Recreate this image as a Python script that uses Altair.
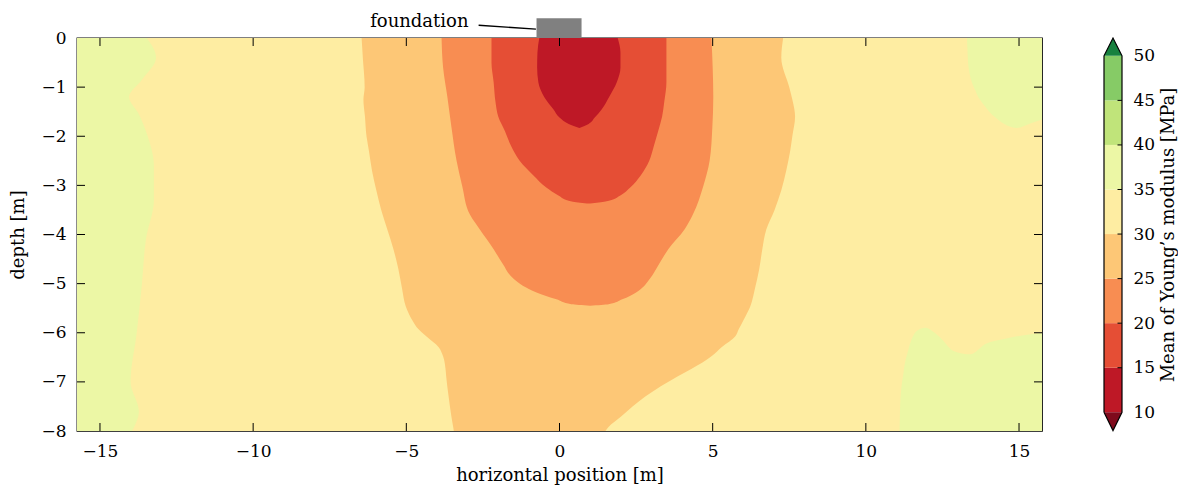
import altair as alt
import pandas as pd

# ---------------- data ----------------
LEVELS = [10, 15, 20, 25, 30, 35, 40, 45, 50]
BANDS = ["<10", "10-15", "15-20", "20-25", "25-30", "30-35", "35-40", "40-45", "45-50", ">50"]
LEVEL_COLORS = ["#7f0a1c", "#be1826", "#e54e35", "#f88d52", "#fdc776", "#feeda2",
                "#ecf7a5", "#c0e47a", "#86cb66", "#17813f"]
X_TICKS = [-15, -10, -5, 0, 5, 10, 15]
Y_TICKS = [0, -1, -2, -3, -4, -5, -6, -7, -8]
X_RANGE = [-15.75, 15.75]
Y_RANGE = [-8, 0]

# 35-40 MPa strip along the left edge: depth and right edge of the strip
LEFT_DEPTH = [0, -0.4, -0.85, -1.2, -1.55, -1.95, -2.6, -3.3, -4.1, -5.0, -6.0, -7.0, -7.6, -8.0]
LEFT_EDGE = [-13.47, -13.17, -13.63, -14.05, -13.73, -13.47, -13.24, -13.24, -13.5, -13.63,
             -13.8, -14.0, -13.73, -13.95]

# 35-40 MPa blob at top right: x position and lower boundary depth
TR_X = [13.30, 13.35, 13.57, 13.9, 14.33, 14.92, 15.41, 15.75]
TR_BOTTOM = [0, -0.58, -1.06, -1.4, -1.67, -1.83, -1.73, -1.66]

# 35-40 MPa blob at bottom right: x position and upper boundary depth
BR_X = [11.1, 11.12, 11.23, 11.39, 11.67, 11.94, 12.2, 12.48, 12.86, 13.41, 13.9, 14.55, 15.75]
BR_TOP = [-8.0, -7.5, -6.81, -6.34, -5.96, -5.9, -5.98, -6.13, -6.37, -6.44, -6.23, -6.12, -6.0]

# 25-30 MPa zone
U25_DEPTH = [0, -0.4, -1.0, -1.25, -1.6, -2.0, -2.3, -2.7, -3.1, -3.5, -3.9, -4.3, -4.7, -5.1,
             -5.46, -5.75, -5.93, -6.07, -6.29, -6.48, -6.74, -6.88, -7.3, -7.7, -7.92, -8.0]
U25_LEFT = [-6.46, -6.42, -6.36, -6.4, -6.35, -6.3, -6.22, -6.12, -5.98, -5.82, -5.62, -5.42,
            -5.26, -5.14, -5.02, -4.8, -4.6, -4.35, -3.95, -3.8, -3.72, -3.7, -3.62, -3.53,
            -3.47, -3.45]
U25_RIGHT = [7.30, 7.24, 7.5, 7.6, 7.69, 7.6, 7.53, 7.4, 7.24, 7.02, 6.75, 6.62, 6.52, 6.38,
             6.23, 6.0, 5.85, 5.74, 5.3, 4.96, 4.3, 3.88, 2.8, 2.02, 1.6, 1.5]

# 20-25 MPa zone
U20_DEPTH = [0, -0.6, -1.2, -1.8, -2.5, -3.0, -3.6, -3.9, -4.3, -4.6, -4.9, -5.18, -5.32, -5.42, -5.45]
U20_LEFT = [-3.85, -3.8, -3.66, -3.53, -3.36, -3.18, -2.92, -2.6, -2.15, -1.85, -1.5, -0.75,
            -0.1, 0.39, 1.0]
U20_RIGHT = [4.96, 5.0, 5.02, 4.99, 4.9, 4.7, 4.35, 4.08, 3.55, 3.25, 2.95, 2.5, 2.05, 1.6, 1.0]

# 15-20 MPa zone
U15_DEPTH = [0, -0.5, -0.9, -1.3, -1.6, -1.9, -2.2, -2.5, -2.8, -3.05, -3.2, -3.33, -3.37]
U15_LEFT = [-2.22, -2.22, -2.15, -2.09, -2.0, -1.78, -1.58, -1.3, -0.85, -0.42, -0.05, 0.4, 0.9]
U15_RIGHT = [3.49, 3.49, 3.49, 3.42, 3.35, 3.22, 3.08, 2.93, 2.65, 2.3, 2.0, 1.5, 1.0]

# 10-15 MPa zone
U10_DEPTH = [0, -0.3, -0.6, -0.9, -1.2, -1.45, -1.62, -1.75, -1.83]
U10_LEFT = [-0.66, -0.72, -0.73, -0.69, -0.5, -0.2, 0.0, 0.3, 0.65]
U10_RIGHT = [1.9, 1.99, 1.99, 1.87, 1.62, 1.38, 1.15, 0.95, 0.65]

# foundation annotation
FOUNDATION_X = [-0.75, 0.72]
FOUNDATION_Y = [0.0, 0.40]
LEADER_X = [-2.64, -0.77]
LEADER_Y = [0.26, 0.18]
LABEL_X = -2.97
LABEL_Y = 0.22
LABEL_TEXT = "foundation"

# ---------------- chart ----------------
FONT = "DejaVu Serif"
W, H = 965, 393
CURVE = "monotone"

xscale = alt.Scale(domain=X_RANGE, nice=False, zero=False)
yscale = alt.Scale(domain=Y_RANGE, nice=False, zero=False)
cscale = alt.Scale(domain=BANDS, range=LEVEL_COLORS)

xaxis = alt.Axis(values=X_TICKS, format="d", title="horizontal position [m]", ticks=False,
                 domain=False, grid=False, labelPadding=12, titlePadding=7,
                 labelFont=FONT, labelFontSize=17, titleFont=FONT, titleFontSize=18,
                 titleFontWeight="normal", labelColor="black", titleColor="black")
yaxis = alt.Axis(values=Y_TICKS, format="d", title="depth [m]", ticks=False,
                 domain=False, grid=False, labelPadding=11, titlePadding=13,
                 labelFont=FONT, labelFontSize=17, titleFont=FONT, titleFontSize=18,
                 titleFontWeight="normal", labelColor="black", titleColor="black")


def X():
    return alt.X("x:Q", scale=xscale, axis=xaxis, stack=None)


def Y():
    return alt.Y("y:Q", scale=yscale, axis=yaxis, stack=None)


C = alt.Color("band:N", scale=cscale, legend=None)


def hband(depth, left, right, band):
    return pd.DataFrame({"y": depth, "x": left, "x2": right, "band": band})


bg_df = pd.DataFrame({"x": [X_RANGE[0]], "x2": [X_RANGE[1]], "y": [Y_RANGE[1]],
                      "y2": [Y_RANGE[0]], "band": ["30-35"]})
bg = alt.Chart(bg_df).mark_rect().encode(x=X(), x2="x2:Q", y=Y(), y2="y2:Q", color=C)

left_df = hband(LEFT_DEPTH, [X_RANGE[0]] * len(LEFT_DEPTH), LEFT_EDGE, "35-40")
left = alt.Chart(left_df).mark_area(orient="horizontal", interpolate=CURVE).encode(
    y=Y(), x=X(), x2="x2:Q", color=C)

tr_df = pd.DataFrame({"x": TR_X, "y": [0.0] * len(TR_X), "y2": TR_BOTTOM, "band": "35-40"})
tr = alt.Chart(tr_df).mark_area(orient="vertical", interpolate=CURVE).encode(
    x=X(), y=Y(), y2="y2:Q", color=C)

br_df = pd.DataFrame({"x": BR_X, "y": BR_TOP, "y2": [-8.0] * len(BR_X), "band": "35-40"})
br = alt.Chart(br_df).mark_area(orient="vertical", interpolate=CURVE).encode(
    x=X(), y=Y(), y2="y2:Q", color=C)

zones = []
for d, l, r, b in [(U25_DEPTH, U25_LEFT, U25_RIGHT, "25-30"),
                   (U20_DEPTH, U20_LEFT, U20_RIGHT, "20-25"),
                   (U15_DEPTH, U15_LEFT, U15_RIGHT, "15-20"),
                   (U10_DEPTH, U10_LEFT, U10_RIGHT, "10-15")]:
    zones.append(alt.Chart(hband(d, l, r, b)).mark_area(
        orient="horizontal", interpolate=CURVE).encode(
        y=Y(), x=X(), x2="x2:Q", color=C))

xt_df = pd.DataFrame({"x": X_TICKS})
yt_df = pd.DataFrame({"y": Y_TICKS[1:-1]})
TICK = 8
tick_top = alt.Chart(xt_df).mark_rule(color="black", strokeWidth=1).encode(
    x=X(), y=alt.value(0), y2=alt.value(TICK))
tick_bot = alt.Chart(xt_df).mark_rule(color="black", strokeWidth=1).encode(
    x=X(), y=alt.value(H - TICK), y2=alt.value(H))
tick_left = alt.Chart(yt_df).mark_rule(color="black", strokeWidth=1).encode(
    y=Y(), x=alt.value(0), x2=alt.value(TICK))
tick_right = alt.Chart(yt_df).mark_rule(color="black", strokeWidth=1).encode(
    y=Y(), x=alt.value(W - TICK), x2=alt.value(W))

fnd_df = pd.DataFrame({"x": [FOUNDATION_X[0]], "x2": [FOUNDATION_X[1]],
                       "y": [FOUNDATION_Y[0]], "y2": [FOUNDATION_Y[1]]})
fnd = alt.Chart(fnd_df).mark_rect(color="#808080").encode(x=X(), x2="x2:Q", y=Y(), y2="y2:Q")
lead_df = pd.DataFrame({"x": LEADER_X, "y": LEADER_Y, "i": [0, 1]})
lead = alt.Chart(lead_df).mark_line(color="black", strokeWidth=1.3).encode(
    x=X(), y=Y(), order="i:Q")
lab_df = pd.DataFrame({"x": [LABEL_X], "y": [LABEL_Y], "t": [LABEL_TEXT]})
lab = alt.Chart(lab_df).mark_text(align="right", baseline="alphabetic", font=FONT,
                                  fontSize=18, color="black").encode(x=X(), y=Y(), text="t:N")

main = alt.layer(bg, left, tr, br, *zones, tick_top, tick_bot, tick_left, tick_right,
                 fnd, lead, lab).properties(
    width=W, height=H,
    view=alt.ViewBackground(stroke="black", strokeWidth=1.3))

# ---------------- colour bar ----------------
CB_W = 18
cbx = alt.Scale(domain=[0, 1], nice=False, zero=False)
cby = alt.Scale(domain=[7.9, 52.0], nice=False, zero=False)
cb_axis = alt.Axis(orient="right", values=LEVELS, format="d", ticks=False, domain=False,
                   grid=False, labelPadding=11, title="Mean of Young’s modulus [MPa]",
                   titleAngle=270, titleBaseline="top", titlePadding=5, labelFont=FONT,
                   labelFontSize=17, titleFont=FONT, titleFontSize=18,
                   titleFontWeight="normal", labelColor="black", titleColor="black")
CX = alt.X("cx:Q", scale=cbx, axis=None, stack=None)
CY = alt.Y("cy:Q", scale=cby, axis=cb_axis, stack=None)

bins_df = pd.DataFrame({"cx": 0.0, "cx2": 1.0, "cy": LEVELS[:-1], "cy2": LEVELS[1:],
                        "band": BANDS[1:-1]})
cb_bins = alt.Chart(bins_df).mark_rect().encode(x=CX, x2="cx2:Q", y=CY, y2="cy2:Q", color=C)

over_df = pd.DataFrame({"cx": [0, 0.5, 1], "cy": [50, 52.0, 50], "cy2": [50, 50, 50],
                        "band": ">50"})
under_df = pd.DataFrame({"cx": [0, 0.5, 1], "cy": [10, 7.95, 10], "cy2": [10, 10, 10],
                         "band": "<10"})
cb_over = alt.Chart(over_df).mark_area().encode(x=CX, y=CY, y2="cy2:Q", color=C)
cb_under = alt.Chart(under_df).mark_area().encode(x=CX, y=CY, y2="cy2:Q", color=C)

outline_df = pd.DataFrame({"cx": [0, 0, 0.5, 1, 1, 0.5, 0],
                           "cy": [10, 50, 52.0, 50, 10, 7.95, 10],
                           "i": list(range(7))})
cb_outline = alt.Chart(outline_df).mark_line(color="black", strokeWidth=1.2).encode(
    x=CX, y=CY, order="i:Q")
cbt_df = pd.DataFrame({"cx": 0.75, "cx2": 1.0, "cy": LEVELS[1:-1]})
cb_ticks = alt.Chart(cbt_df).mark_rule(color="black", strokeWidth=1).encode(
    x=CX, x2="cx2:Q", y=CY)

colorbar = alt.layer(cb_bins, cb_over, cb_under, cb_ticks, cb_outline).properties(
    width=CB_W, height=H,
    view=alt.ViewBackground(stroke="transparent", strokeWidth=0))

chart = alt.hconcat(main, colorbar, spacing=57).resolve_scale(
    x="independent", y="independent"
).properties(
    padding={"left": 1, "top": 4, "right": 0, "bottom": 5},
    background="white",
)

chart.save("out.html", embed_options={"renderer": "svg", "actions": False})
